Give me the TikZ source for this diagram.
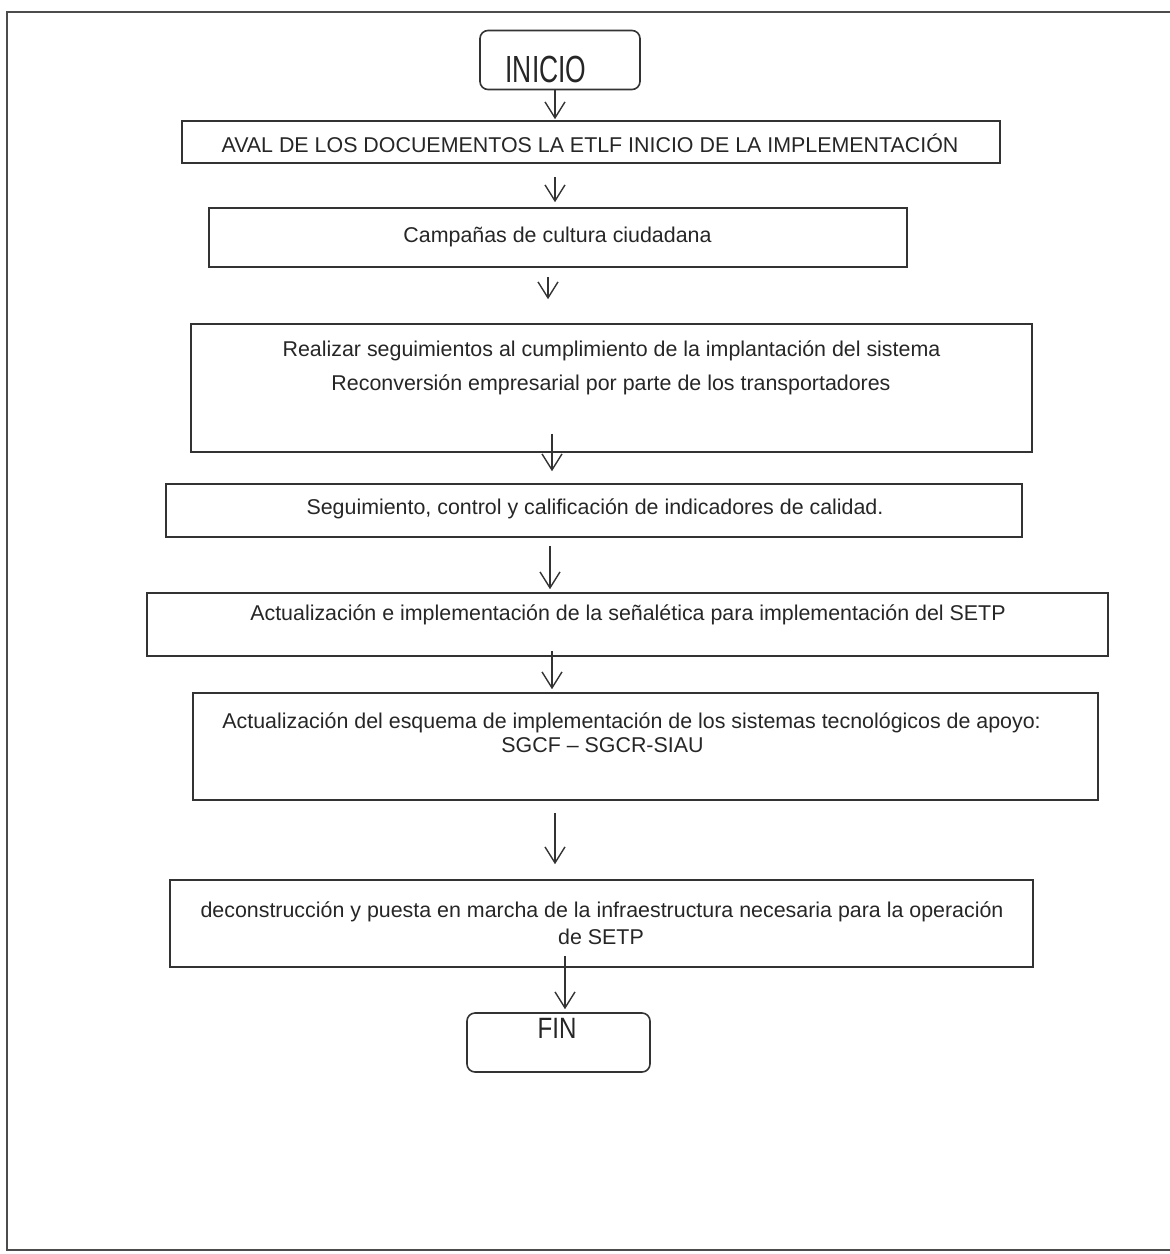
\documentclass[tikz,border=0pt]{standalone}
\usepackage{fontspec}
\setmainfont{Liberation Sans}
\newfontfamily\angosta[FakeStretch=0.7]{Liberation Sans}
\newfontfamily\angostafin[FakeStretch=0.82]{Liberation Sans}
\usetikzlibrary{arrows.meta}

\begin{document}
\begin{tikzpicture}[
  x=0.5pt, y=-0.5pt,
  proceso/.style={
    rectangle,
    draw=black!80,
    line width=0.8pt,
    inner sep=0pt
  },
  terminal/.style={
    proceso, rounded corners=4pt
  },
  texto/.style={
    anchor=base, inner sep=0pt, text=black!85,
    font=\fontsize{10.7}{12}\selectfont
  },
  flecha/.style={
    draw=black!80, line width=0.7pt,
    -{Straight Barb[length=8pt,width=10pt]}
  }
]
\useasboundingbox (0,0) rectangle (1170,1254);

% page frame, open on the right
\draw[black!70, line width=0.8pt] (1170,12) -- (7,12) -- (7,1250) -- (1170,1250);

% boxes
\node[terminal, minimum width=80pt,   minimum height=29.5pt] (inicio) at (560,60)     {};
\node[proceso,  minimum width=409pt,  minimum height=21pt]   (aval)   at (591,142)    {};
\node[proceso,  minimum width=349pt,  minimum height=29.5pt] (camp)   at (558,237.5)  {};
\node[proceso,  minimum width=420.5pt,minimum height=64pt]   (real)   at (611.5,388)  {};
\node[proceso,  minimum width=428pt,  minimum height=26.5pt] (seg)    at (594,510.5)  {};
\node[proceso,  minimum width=480.5pt,minimum height=31.5pt] (sen)    at (627.5,624.5){};
\node[proceso,  minimum width=452.5pt,minimum height=53.5pt] (esq)    at (645.5,746.5){};
\node[proceso,  minimum width=431.5pt,minimum height=43.5pt] (dec)    at (601.5,923.5){};
\node[terminal, minimum width=91.5pt, minimum height=29.5pt] (fin)    at (558.5,1042.5){};

% texts
\node[texto, font=\angosta\fontsize{18.9}{20}\selectfont] (t-inicio) at (546,82) {INICIO};
\node[texto] (t-aval)  at (590,152) {AVAL DE LOS DOCUEMENTOS LA ETLF INICIO DE LA IMPLEMENTACIÓN};
\node[texto] (t-camp)  at (557.5,242) {Campañas de cultura ciudadana};
\node[texto] (t-real1) at (611.5,356) {Realizar seguimientos al cumplimiento de la implantación del sistema};
\node[texto] (t-real2) at (611,390) {Reconversión empresarial por parte de los transportadores};
\node[texto] (t-seg)   at (595,514) {Seguimiento, control y calificación de indicadores de calidad.};
\node[texto] (t-sen)   at (628,620) {Actualización e implementación de la señalética para implementación del SETP};
\node[texto, anchor=base west] (t-esq1) at (222,728) {Actualización del esquema de implementación de los sistemas tecnológicos de apoyo:};
\node[texto, anchor=base west] (t-esq2) at (501,752) {SGCF – SGCR-SIAU};
\node[texto] (t-dec1)  at (602,917) {deconstrucción y puesta en marcha de la infraestructura necesaria para la operación};
\node[texto] (t-dec2)  at (601,944) {de SETP};
\node[texto, font=\angostafin\fontsize{14.7}{16}\selectfont] (t-fin) at (557,1038) {FIN};

% arrows (hand drawn, not all on one axis)
\coordinate (x1) at (555,0);
\coordinate (x3) at (548,0);
\coordinate (x4) at (552,0);
\coordinate (x5) at (550,0);
\coordinate (x7) at (555,0);
\coordinate (x8) at (565,0);

\draw[flecha, shorten >=0.5pt]                 (inicio.south -| x1) -- (aval.north -| x1);
\draw[flecha, shorten <=6.5pt, shorten >=2.5pt] (aval.south -| x1)   -- (camp.north -| x1);
\draw[flecha, shorten <=4.5pt, shorten >=12pt]  (camp.south -| x3)   -- (real.north -| x3);
\draw[flecha, shorten <=-9.5pt, shorten >=6pt]  (real.south -| x4)   -- (seg.north -| x4);
\draw[flecha, shorten <=4pt, shorten >=1.5pt]   (seg.south -| x5)    -- (sen.north -| x5);
\draw[flecha, shorten <=-3pt, shorten >=1.5pt]  (sen.south -| x4)    -- (esq.north -| x4);
\draw[flecha, shorten <=6pt, shorten >=7.5pt]   (esq.south -| x7)    -- (dec.north -| x7);
\draw[flecha, shorten <=-6pt, shorten >=1.5pt]  (dec.south -| x8)    -- (fin.north -| x8);
\end{tikzpicture}
\end{document}
